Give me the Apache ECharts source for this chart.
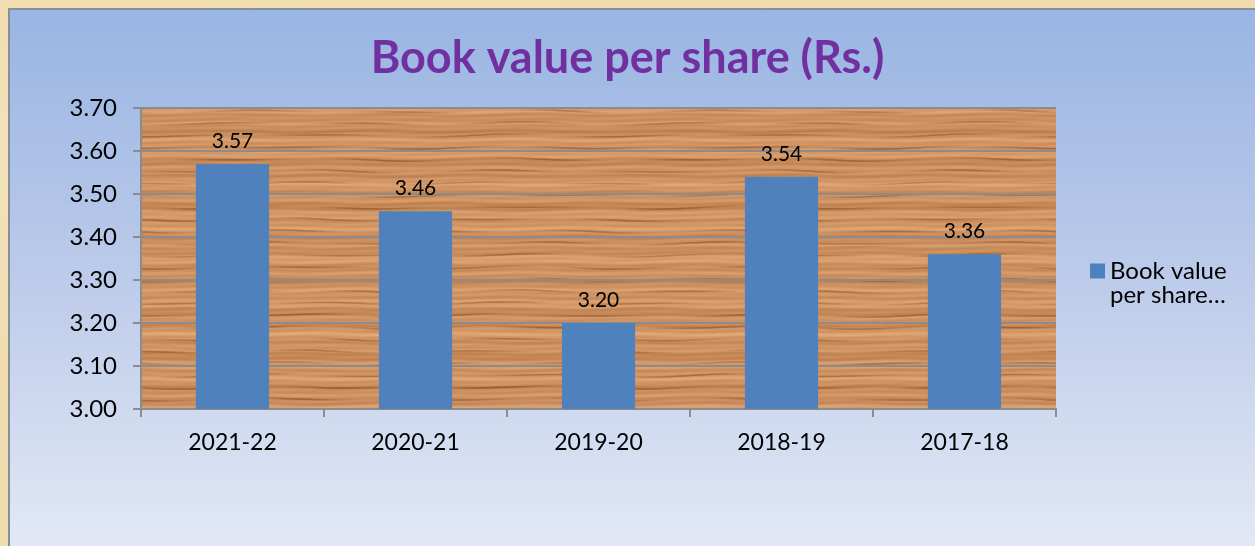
<!DOCTYPE html>
<html>
<head>
<meta charset="utf-8">
<script src="https://cdn.jsdelivr.net/npm/echarts@6/dist/echarts.min.js"></script>
<style>
    html, body { margin: 0; padding: 0; }
    body {
        width: 1255px; height: 546px; overflow: hidden; position: relative;
        background: #efdcae;
        background-image: radial-gradient(ellipse at 20% 30%, #f5e6c2 0%, rgba(245,230,194,0) 40%),
                          radial-gradient(ellipse at 70% 80%, #e6d09c 0%, rgba(230,208,156,0) 45%);
    }
    .panel {
        position: absolute; left: 8px; top: 8px; right: 0; bottom: 0;
        border-left: 2px solid #8a8f96; border-top: 2px solid #8a8f96;
        background: linear-gradient(to bottom, #99b5e3 0%, #bccbea 50%, #e2e8f5 100%);
    }
    #chart { position: absolute; left: 0; top: 0; width: 1255px; height: 546px; }
</style>
</head>
<body>
<div class="panel"></div>
<div id="chart"></div>
<script>
    // 数据
    const categories = ["2021-22", "2020-21", "2019-20", "2018-19", "2017-18"];
    const bookValues = [3.57, 3.46, 3.20, 3.54, 3.36];
    const seriesName = "Book value per share (Rs.)";

    // wood texture for plot area (deterministic, tiles without seams)
    function woodPattern() {
        const w = 460, h = 300;
        const kx = 2 * Math.PI / w, ky = 2 * Math.PI / h;
        const c = document.createElement("canvas");
        c.width = w; c.height = h;
        const ctx = c.getContext("2d");
        const img = ctx.createImageData(w, h);
        for (let y = 0; y < h; y++) {
            for (let x = 0; x < w; x++) {
                const yy = y + 0.8 * Math.sin(x * kx * 3 + y * ky * 2);
                let t = 0.64 + 0.09 * Math.sin(yy * ky * 20) + 0.07 * Math.sin(yy * ky * 54 + 1.1)
                    + 0.06 * Math.sin(yy * ky * 8 + 2.0) + 0.03 * Math.sin(x * kx * 4 + y * ky * 43);
                // soft dark streaks that fade in and out along x
                const s = Math.sin(yy * ky * 25 + 0.5 * Math.sin(x * kx * 2));
                const fade = 0.5 + 0.5 * Math.sin(x * kx * 3 + y * ky * 7);
                const streak = s > 0.8 ? (s - 0.8) * 5 * fade : 0;
                t = Math.max(0, Math.min(1, t - streak * 0.4));
                const i = (y * w + x) * 4;
                img.data[i] = 150 + 88 * t;
                img.data[i + 1] = 88 + 92 * t;
                img.data[i + 2] = 40 + 92 * t;
                img.data[i + 3] = 255;
            }
        }
        ctx.putImageData(img, 0, 0);
        return c;
    }

    const myChart = echarts.init(document.getElementById("chart"), null, { renderer: "canvas" });
    const font = "Lato, 'Open Sans', sans-serif";

    const option = {
        backgroundColor: "transparent",
        title: {
            text: seriesName,
            left: "center",
            top: 31,
            textStyle: {
                color: "#7030a0",
                fontFamily: font,
                fontWeight: "bold",
                fontSize: 45
            }
        },
        legend: {
            left: 1085,
            top: 254,
            icon: "rect",
            itemWidth: 15,
            itemHeight: 15,
            formatter: () => "Book value",
            textStyle: { color: "#000", fontFamily: font, fontSize: 24 },
            data: [seriesName]
        },
        graphic: [{
            type: "text",
            left: 1110,
            top: 283,
            style: { text: "per share…", fill: "#000", font: "24px " + font }
        }],
        grid: {
            left: 141,
            top: 108,
            right: 199,
            bottom: 137,
            show: true,
            borderWidth: 0,
            backgroundColor: { image: woodPattern(), repeat: "repeat" }
        },
        xAxis: {
            type: "category",
            data: categories,
            axisLine: { lineStyle: { color: "#8c8c8c", width: 2 } },
            axisTick: { show: true, length: 8, lineStyle: { color: "#8c8c8c", width: 2 } },
            axisLabel: { color: "#000", fontFamily: font, fontSize: 23, margin: 22 }
        },
        yAxis: {
            type: "value",
            min: 3.0,
            max: 3.7,
            interval: 0.1,
            axisLine: { show: true, lineStyle: { color: "#8c8c8c", width: 2 } },
            axisTick: { show: true, length: 8, lineStyle: { color: "#8c8c8c", width: 2 } },
            axisLabel: {
                color: "#000", fontFamily: font, fontSize: 24, margin: 24,
                formatter: v => v.toFixed(2)
            },
            splitLine: { lineStyle: { color: "#8c8c8c", width: 2 } }
        },
        series: [{
            name: seriesName,
            type: "bar",
            barWidth: "40%",
            data: bookValues,
            itemStyle: { color: "#4f81bd" },
            label: {
                show: true,
                position: "top",
                distance: 12,
                color: "#000",
                fontFamily: font,
                fontSize: 21,
                formatter: p => p.value.toFixed(2)
            }
        }]
    };
    myChart.setOption(option);
    window.addEventListener("resize", () => myChart.resize(), false);
</script>
</body>
</html>
